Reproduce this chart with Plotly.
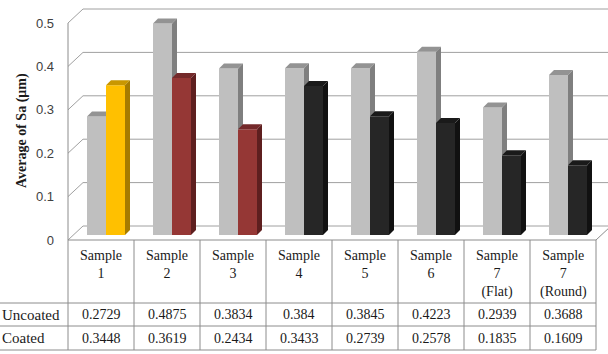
import plotly.graph_objects as go

# ---- data -------------------------------------------------------------
categories = ["Sample 1", "Sample 2", "Sample 3", "Sample 4",
              "Sample 5", "Sample 6", "Sample 7 (Flat)", "Sample 7 (Round)"]
header_labels = ["Sample<br>1", "Sample<br>2", "Sample<br>3", "Sample<br>4",
                 "Sample<br>5", "Sample<br>6", "Sample<br>7<br>(Flat)",
                 "Sample<br>7<br>(Round)"]
uncoated = [0.2729, 0.4875, 0.3834, 0.384, 0.3845, 0.4223, 0.2939, 0.3688]
coated = [0.3448, 0.3619, 0.2434, 0.3433, 0.2739, 0.2578, 0.1835, 0.1609]
uncoated_text = ["0.2729", "0.4875", "0.3834", "0.384", "0.3845", "0.4223", "0.2939", "0.3688"]
coated_text = ["0.3448", "0.3619", "0.2434", "0.3433", "0.2739", "0.2578", "0.1835", "0.1609"]
y_ticks = [0, 0.1, 0.2, 0.3, 0.4, 0.5]
y_tick_text = ["0", "0.1", "0.2", "0.3", "0.4", "0.5"]

# ---- styling ----------------------------------------------------------
W, H = 608, 354
COL_PX = 66          # pixel width of one category column
UNIT_PX = 434        # pixels per 1.0 of the value axis
CX0 = 101            # pixel x of first category centre
Y0 = 240             # pixel y of zero on the front plane

GRAY = ("#BFBFBF", "#939393", "#7F7F7F")          # front, top, side
YELLOW = ("#FFC000", "#C99700", "#A67C00")
RED = ("#953735", "#74292A", "#5E1F1F")
BLACK = ("#262626", "#1A1A1A", "#111111")
coated_palette = [YELLOW, RED, RED, BLACK, BLACK, BLACK, BLACK, BLACK]
GRID = "#A0A0A0"
TABLE = "#8C8C8C"
SERIF = "Times New Roman, Liberation Serif, DejaVu Serif, serif"
TXT = "#1a1a1a"


def dx(p):
    return p / COL_PX


def dy(p):
    return p / UNIT_PX


def X(p):
    return (p - CX0) / COL_PX


def Y(p):
    return (Y0 - p) / UNIT_PX


BAR_W = dx(19)                 # front face width
BX, BY = dx(5), dy(5)          # bar depth offset
WX, WY = dx(15), dy(14)        # back wall depth offset
BASE = BY                      # bars stand one bar-depth behind the front plane

fig = go.Figure()

# front faces
n = len(categories)
unc_x = [i + BX - BAR_W / 2 for i in range(n)]
coa_x = [i + BX + BAR_W / 2 for i in range(n)]
fig.add_trace(go.Bar(x=unc_x, y=uncoated, base=[BASE] * n, width=[BAR_W] * n,
                     marker=dict(color=GRAY[0], line=dict(width=0)),
                     name="Uncoated", showlegend=False))
fig.add_trace(go.Bar(x=coa_x, y=coated, base=[BASE] * n, width=[BAR_W] * n,
                     marker=dict(color=[c[0] for c in coated_palette], line=dict(width=0)),
                     name="Coated", showlegend=False))


def poly(xs, ys, color):
    fig.add_trace(go.Scatter(x=xs + [xs[0]], y=ys + [ys[0]], mode="lines",
                             fill="toself", fillcolor=color,
                             line=dict(width=0, color=color),
                             hoverinfo="skip", showlegend=False))


# top and side faces, hidden parts trimmed where the coated bar sits in front
for i in range(n):
    vu, vc = uncoated[i], coated[i]
    x0 = i + BX - BAR_W
    x1 = i + BX
    x2 = i + BX + BAR_W
    tu, tc = BASE + vu, BASE + vc
    if vu >= vc:
        poly([x0, x1, x1 + BX, x0 + BX], [tu, tu, tu + BY, tu + BY], GRAY[1])
        poly([x1, x1, x1 + BX, x1 + BX], [tc, tu, tu + BY, tc], GRAY[2])
    else:
        poly([x0, x1, x1, x0 + BX], [tu, tu, tu + BY, tu + BY], GRAY[1])
    pal = coated_palette[i]
    poly([x1, x2, x2 + BX, x1 + BX], [tc, tc, tc + BY, tc + BY], pal[1])
    poly([x2, x2, x2 + BX, x2 + BX], [BASE, tc, tc + BY, BASE + BY], pal[2])

# ---- walls, gridlines and table --------------------------------------
shapes = []
left_front = X(68)
right_front = X(596)
x_right_edge = X(W)


def line(x0, y0, x1, y1, color=GRID, width=1, layer="below"):
    shapes.append(dict(type="line", xref="x", yref="y", x0=x0, y0=y0, x1=x1, y1=y1,
                       line=dict(color=color, width=width), layer=layer))


for t in y_ticks:
    line(left_front, t, left_front + WX, t + WY)
    line(left_front + WX, t + WY, x_right_edge + 1, t + WY)
# front vertical edge (value axis)
line(left_front, y_ticks[-1], left_front, Y(350), color=TABLE)
# floor front edge and right diagonal
line(left_front, 0, right_front, 0, color=TABLE)
line(right_front, 0, right_front + WX, WY, color=TABLE)

# table grid
for k in range(1, n + 1):
    xk = left_front + k
    line(xk, 0, xk, Y(350), color=TABLE, layer="above")
for py in (303, 326, 350):
    line(X(0), Y(py), right_front, Y(py), color=TABLE, layer="above")

annotations = []
cell_font = dict(family=SERIF, size=14, color=TXT)
row_font = dict(family=SERIF, size=15, color=TXT)
for i in range(n):
    annotations.append(dict(x=i, y=Y(246), xref="x", yref="y", text=header_labels[i],
                            showarrow=False, xanchor="center", yanchor="top",
                            font=cell_font))
    annotations.append(dict(x=i, y=Y(314.5), xref="x", yref="y", text=uncoated_text[i],
                            showarrow=False, xanchor="center", yanchor="middle",
                            font=cell_font))
    annotations.append(dict(x=i, y=Y(338), xref="x", yref="y", text=coated_text[i],
                            showarrow=False, xanchor="center", yanchor="middle",
                            font=cell_font))
for label, py in (("Uncoated", 314.5), ("Coated", 338)):
    annotations.append(dict(x=X(0), y=Y(py), xref="x", yref="y", text=label,
                            showarrow=False, xanchor="left", yanchor="middle",
                            font=row_font))
annotations.append(dict(x=22 / W, y=1 - 131 / H, xref="paper", yref="paper",
                        text="<b>Average of Sa (μm)</b>", textangle=-90,
                        showarrow=False, xanchor="center", yanchor="middle",
                        font=dict(family=SERIF, size=14, color=TXT)))

fig.update_layout(
    width=W, height=H,
    margin=dict(l=0, r=0, t=0, b=0),
    paper_bgcolor="white", plot_bgcolor="white",
    barmode="overlay",
    showlegend=False,
    shapes=shapes,
    annotations=annotations,
    xaxis=dict(range=[X(0), X(W)], visible=False, fixedrange=True),
    yaxis=dict(range=[Y(H), Y(0)], anchor="free", position=68 / W,
               tickvals=y_ticks, ticktext=y_tick_text, showgrid=False,
               zeroline=False, showline=False, ticks="", ticklabelstandoff=14,
               tickfont=dict(family="Liberation Sans", size=13, color="#404040"),
               fixedrange=True),
)

fig.write_html("out.html")
